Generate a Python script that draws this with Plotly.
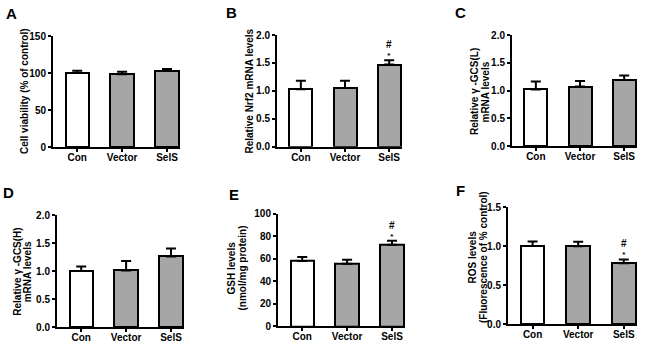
import plotly.graph_objects as go

W, H = 649, 344

categories = ["Con", "Vector", "SelS"]

cell_viability = [100.0, 98.2, 102.7]
cell_viability_err = [3.0, 3.5, 2.7]

nrf2 = [1.03, 1.05, 1.47]
nrf2_err = [0.15, 0.13, 0.08]

gcs_l = [1.02, 1.07, 1.19]
gcs_l_err = [0.14, 0.10, 0.08]

gcs_h = [1.00, 1.01, 1.26]
gcs_h_err = [0.08, 0.17, 0.14]

gsh = [58.0, 55.6, 72.5]
gsh_err = [3.5, 3.6, 3.5]

ros = [1.00, 0.997, 0.78]
ros_err = [0.06, 0.06, 0.05]

bar_colors = ["#ffffff", "#a6a6a6", "#a6a6a6"]

FONT = "Liberation Sans, Arial, sans-serif"

# panel layout in pixels: (x_left, x_right, y_zero_px, y_top_px)
panels = [
    dict(letter="A", vals=cell_viability, err=cell_viability_err, ymax=150, dtick=50, fmt="d",
         px=(53, 180, 147, 36), title=["Cell viability (% of control)"], tx=[24], ty=91,
         letter_pos=(11, 14), marks=False),
    dict(letter="B", vals=nrf2, err=nrf2_err, ymax=2.0, dtick=0.5, fmt=".1f",
         px=(277, 402, 146.7, 35), title=["Relative Nrf2 mRNA levels"], tx=[248.5], ty=91,
         letter_pos=(231, 13), marks=True),
    dict(letter="C", vals=gcs_l, err=gcs_l_err, ymax=2.0, dtick=0.5, fmt=".1f",
         px=(512, 637, 146, 35), title=["Relative \u03b3 -GCS(L)", "mRNA levels"], tx=[474, 484.5], ty=92,
         letter_pos=(461, 13), marks=False),
    dict(letter="D", vals=gcs_h, err=gcs_h_err, ymax=2.0, dtick=0.5, fmt=".1f",
         px=(57, 184, 327, 215), title=["Relative \u03b3 -GCS(H)", "mRNA levels"], tx=[16.7, 27.3], ty=272,
         letter_pos=(8, 192), marks=False),
    dict(letter="E", vals=gsh, err=gsh_err, ymax=100, dtick=20, fmt="d",
         px=(278, 405, 326.3, 213.7), title=["GSH levels", "(nmol/mg protein)"], tx=[231, 242], ty=268.5,
         letter_pos=(234, 194), marks=True),
    dict(letter="F", vals=ros, err=ros_err, ymax=1.5, dtick=0.5, fmt=".1f",
         px=(508, 637, 324.3, 207), title=["ROS levels", "(Fluorescence of % control)"], tx=[471.5, 483], ty=257,
         letter_pos=(461, 190), marks=True),
]

fig = go.Figure()
annotations = []
layout_axes = {}

for i, p in enumerate(panels):
    n = i + 1
    xa = "x" if n == 1 else f"x{n}"
    ya = "y" if n == 1 else f"y{n}"
    xl, xr, y0, yt = p["px"]
    fig.add_trace(go.Bar(
        x=[0, 1, 2], y=p["vals"], width=0.52,
        marker=dict(color=bar_colors, line=dict(color="black", width=2)),
        error_y=dict(type="data", array=p["err"], arrayminus=[0, 0, 0], symmetric=False,
                     color="black", thickness=2, width=5),
        xaxis=xa, yaxis=ya, showlegend=False, hoverinfo="skip",
    ))
    xkey = "xaxis" if n == 1 else f"xaxis{n}"
    ykey = "yaxis" if n == 1 else f"yaxis{n}"
    layout_axes[xkey] = dict(
        domain=[xl / W, xr / W], anchor=ya, range=[-0.54, 2.29], automargin=False,
        tickmode="array", tickvals=[0, 1, 2], ticktext=categories,
        showline=True, linecolor="black", linewidth=2,
        ticks="outside", ticklen=3, tickwidth=2, tickcolor="black",
        ticklabelstandoff=-3,
        showgrid=False, zeroline=False, fixedrange=True,
        tickfont=dict(family=FONT, size=10, color="black", weight="bold"),
    )
    layout_axes[ykey] = dict(
        domain=[1 - y0 / H, 1 - yt / H], anchor=xa, range=[0, p["ymax"]], automargin=False,
        dtick=p["dtick"], tick0=0, tickformat=p["fmt"],
        showline=True, linecolor="black", linewidth=2,
        ticks="outside", ticklen=3, tickwidth=2, tickcolor="black",
        showgrid=False, zeroline=False, fixedrange=True,
        tickfont=dict(family=FONT, size=10, color="black", weight="bold"),
    )
    for line_text, tx in zip(p["title"], p["tx"]):
        annotations.append(dict(
            x=tx / W, y=1 - p["ty"] / H, xref="paper", yref="paper", text=line_text,
            textangle=-90, showarrow=False, xanchor="center", yanchor="middle",
            font=dict(family=FONT, size=10, color="black", weight="bold"),
        ))
    lx, ly = p["letter_pos"]
    annotations.append(dict(
        x=lx / W, y=1 - ly / H, xref="paper", yref="paper", text=p["letter"],
        showarrow=False, xanchor="center", yanchor="middle",
        font=dict(family=FONT, size=15, color="black", weight="bold"),
    ))
    if p["marks"]:
        top = p["vals"][2] + p["err"][2]
        annotations.append(dict(
            x=2, y=top, xref=xa, yref=ya,
            text="<span style='font-size:10px'>#</span><br>*",
            showarrow=False, xanchor="center", yanchor="bottom", yshift=-1,
            borderpad=0,
            font=dict(family=FONT, size=8, color="black", weight="bold"),
        ))

fig.update_layout(
    width=W, height=H, margin=dict(l=0, r=0, t=0, b=0, autoexpand=False),
    paper_bgcolor="white", plot_bgcolor="white",
    annotations=annotations, bargap=0,
    **layout_axes,
)

fig.write_html(
    "out.html",
    config={"displayModeBar": False},
    post_script="document.body.style.margin='0';document.body.style.overflow='hidden';",
)
